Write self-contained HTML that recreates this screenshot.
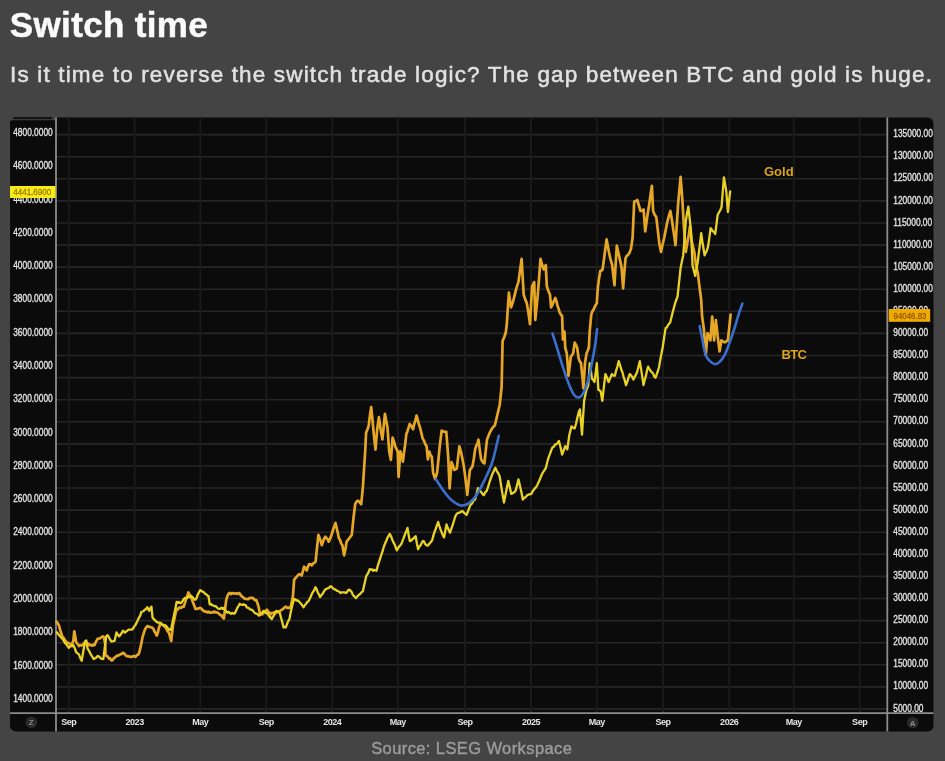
<!DOCTYPE html>
<html><head><meta charset="utf-8"><style>
html,body{margin:0;padding:0;background:#444444;}
#wrap{position:absolute;left:0;top:0;width:945px;height:761px;background:#444444;filter:blur(0.5px);}
body{width:945px;height:761px;background:#444444;overflow:hidden;position:relative;font-family:"Liberation Sans",sans-serif;}
.t{position:absolute;white-space:nowrap;line-height:1;}
#title{left:9.8px;top:7.1px;font-size:35px;font-weight:bold;color:#fafafa;letter-spacing:0.35px;-webkit-text-stroke:0.5px #fafafa;}
#sub{left:10.1px;top:64px;font-size:22.5px;letter-spacing:1.15px;color:#e2e2e2;-webkit-text-stroke:0.5px #e2e2e2;}
#src{left:371.2px;top:739.5px;font-size:16.5px;letter-spacing:0.4px;color:#9c9c9c;-webkit-text-stroke:0.4px #9c9c9c;}
svg{position:absolute;left:0;top:0;}
.ax{font-size:10.2px;fill:#e0e0e0;stroke:#e0e0e0;stroke-width:0.35px;}
.xl{font-size:9px;fill:#e6e6e6;font-weight:bold;letter-spacing:-0.45px;}
.ic{font-size:8px;fill:#8a8a8a;font-weight:bold;}
.lg{font-size:13px;font-weight:bold;fill:#dca21e;}
</style></head><body>
<div id="wrap">
<div class="t" id="title">Switch time</div>
<div class="t" id="sub">Is it time to reverse the switch trade logic? The gap between BTC and gold is huge.</div>
<svg width="945" height="761" viewBox="0 0 945 761">
<rect x="10" y="117.5" width="923.5" height="614.0" rx="6" fill="#0b0b0b"/>
<rect x="10" y="123" width="20" height="10" fill="#0b0b0b"/>
<rect x="9" y="116.5" width="46.2" height="4" fill="#444444"/>
<rect x="13" y="117" width="39.5" height="2.2" rx="1" fill="#141414"/>
<path d="M10,124 Q10,120.6 13.4,120.6 L55,120.6 L55,124 Z" fill="#0b0b0b"/>
<line x1="56" y1="134.6" x2="887.3" y2="134.6" stroke="#262626" stroke-width="1.6"/>
<line x1="56" y1="156.7" x2="887.3" y2="156.7" stroke="#262626" stroke-width="1.6"/>
<line x1="56" y1="178.8" x2="887.3" y2="178.8" stroke="#262626" stroke-width="1.6"/>
<line x1="56" y1="200.9" x2="887.3" y2="200.9" stroke="#262626" stroke-width="1.6"/>
<line x1="56" y1="223" x2="887.3" y2="223" stroke="#262626" stroke-width="1.6"/>
<line x1="56" y1="245.1" x2="887.3" y2="245.1" stroke="#262626" stroke-width="1.6"/>
<line x1="56" y1="267.1" x2="887.3" y2="267.1" stroke="#262626" stroke-width="1.6"/>
<line x1="56" y1="289.2" x2="887.3" y2="289.2" stroke="#262626" stroke-width="1.6"/>
<line x1="56" y1="311.3" x2="887.3" y2="311.3" stroke="#262626" stroke-width="1.6"/>
<line x1="56" y1="333.4" x2="887.3" y2="333.4" stroke="#262626" stroke-width="1.6"/>
<line x1="56" y1="355.5" x2="887.3" y2="355.5" stroke="#262626" stroke-width="1.6"/>
<line x1="56" y1="377.6" x2="887.3" y2="377.6" stroke="#262626" stroke-width="1.6"/>
<line x1="56" y1="399.7" x2="887.3" y2="399.7" stroke="#262626" stroke-width="1.6"/>
<line x1="56" y1="421.8" x2="887.3" y2="421.8" stroke="#262626" stroke-width="1.6"/>
<line x1="56" y1="443.9" x2="887.3" y2="443.9" stroke="#262626" stroke-width="1.6"/>
<line x1="56" y1="466" x2="887.3" y2="466" stroke="#262626" stroke-width="1.6"/>
<line x1="56" y1="488" x2="887.3" y2="488" stroke="#262626" stroke-width="1.6"/>
<line x1="56" y1="510.1" x2="887.3" y2="510.1" stroke="#262626" stroke-width="1.6"/>
<line x1="56" y1="532.2" x2="887.3" y2="532.2" stroke="#262626" stroke-width="1.6"/>
<line x1="56" y1="554.3" x2="887.3" y2="554.3" stroke="#262626" stroke-width="1.6"/>
<line x1="56" y1="576.4" x2="887.3" y2="576.4" stroke="#262626" stroke-width="1.6"/>
<line x1="56" y1="598.5" x2="887.3" y2="598.5" stroke="#262626" stroke-width="1.6"/>
<line x1="56" y1="620.6" x2="887.3" y2="620.6" stroke="#262626" stroke-width="1.6"/>
<line x1="56" y1="642.7" x2="887.3" y2="642.7" stroke="#262626" stroke-width="1.6"/>
<line x1="56" y1="664.8" x2="887.3" y2="664.8" stroke="#262626" stroke-width="1.6"/>
<line x1="56" y1="686.9" x2="887.3" y2="686.9" stroke="#262626" stroke-width="1.6"/>
<line x1="56" y1="708.9" x2="887.3" y2="708.9" stroke="#262626" stroke-width="1.6"/>
<line x1="68.8" y1="117.5" x2="68.8" y2="713.2" stroke="#1a1a1a" stroke-width="2"/>
<line x1="134.6" y1="117.5" x2="134.6" y2="713.2" stroke="#1a1a1a" stroke-width="2"/>
<line x1="200.3" y1="117.5" x2="200.3" y2="713.2" stroke="#1a1a1a" stroke-width="2"/>
<line x1="266.3" y1="117.5" x2="266.3" y2="713.2" stroke="#1a1a1a" stroke-width="2"/>
<line x1="332.3" y1="117.5" x2="332.3" y2="713.2" stroke="#1a1a1a" stroke-width="2"/>
<line x1="397.8" y1="117.5" x2="397.8" y2="713.2" stroke="#1a1a1a" stroke-width="2"/>
<line x1="465" y1="117.5" x2="465" y2="713.2" stroke="#1a1a1a" stroke-width="2"/>
<line x1="531" y1="117.5" x2="531" y2="713.2" stroke="#1a1a1a" stroke-width="2"/>
<line x1="596.8" y1="117.5" x2="596.8" y2="713.2" stroke="#1a1a1a" stroke-width="2"/>
<line x1="663" y1="117.5" x2="663" y2="713.2" stroke="#1a1a1a" stroke-width="2"/>
<line x1="729.2" y1="117.5" x2="729.2" y2="713.2" stroke="#1a1a1a" stroke-width="2"/>
<line x1="793.8" y1="117.5" x2="793.8" y2="713.2" stroke="#1a1a1a" stroke-width="2"/>
<line x1="859.7" y1="117.5" x2="859.7" y2="713.2" stroke="#1a1a1a" stroke-width="2"/>
<line x1="56" y1="117.5" x2="56" y2="731.5" stroke="#8c8c8c" stroke-width="1.8"/>
<line x1="887.3" y1="117.5" x2="887.3" y2="731.5" stroke="#8c8c8c" stroke-width="1.8"/>
<line x1="10" y1="713.2" x2="933.5" y2="713.2" stroke="#8c8c8c" stroke-width="1.8"/>
<text transform="translate(13.2,135.9) scale(0.82,1)" class="ax">4800.0000</text>
<text transform="translate(13.2,169.2) scale(0.82,1)" class="ax">4600.0000</text>
<text transform="translate(13.2,202.5) scale(0.82,1)" class="ax">4400.0000</text>
<text transform="translate(13.2,235.8) scale(0.82,1)" class="ax">4200.0000</text>
<text transform="translate(13.2,269.1) scale(0.82,1)" class="ax">4000.0000</text>
<text transform="translate(13.2,302.3) scale(0.82,1)" class="ax">3800.0000</text>
<text transform="translate(13.2,335.6) scale(0.82,1)" class="ax">3600.0000</text>
<text transform="translate(13.2,368.9) scale(0.82,1)" class="ax">3400.0000</text>
<text transform="translate(13.2,402.2) scale(0.82,1)" class="ax">3200.0000</text>
<text transform="translate(13.2,435.5) scale(0.82,1)" class="ax">3000.0000</text>
<text transform="translate(13.2,468.8) scale(0.82,1)" class="ax">2800.0000</text>
<text transform="translate(13.2,502.1) scale(0.82,1)" class="ax">2600.0000</text>
<text transform="translate(13.2,535.4) scale(0.82,1)" class="ax">2400.0000</text>
<text transform="translate(13.2,568.7) scale(0.82,1)" class="ax">2200.0000</text>
<text transform="translate(13.2,602) scale(0.82,1)" class="ax">2000.0000</text>
<text transform="translate(13.2,635.2) scale(0.82,1)" class="ax">1800.0000</text>
<text transform="translate(13.2,668.5) scale(0.82,1)" class="ax">1600.0000</text>
<text transform="translate(13.2,701.8) scale(0.82,1)" class="ax">1400.0000</text>
<text transform="translate(893.3,137.2) scale(0.82,1)" class="ax">135000.00</text>
<text transform="translate(893.3,159.3) scale(0.82,1)" class="ax">130000.00</text>
<text transform="translate(893.3,181.4) scale(0.82,1)" class="ax">125000.00</text>
<text transform="translate(893.3,203.5) scale(0.82,1)" class="ax">120000.00</text>
<text transform="translate(893.3,225.6) scale(0.82,1)" class="ax">115000.00</text>
<text transform="translate(893.3,247.7) scale(0.82,1)" class="ax">110000.00</text>
<text transform="translate(893.3,269.7) scale(0.82,1)" class="ax">105000.00</text>
<text transform="translate(893.3,291.8) scale(0.82,1)" class="ax">100000.00</text>
<text transform="translate(893.3,313.9) scale(0.82,1)" class="ax">95000.00</text>
<text transform="translate(893.3,336) scale(0.82,1)" class="ax">90000.00</text>
<text transform="translate(893.3,358.1) scale(0.82,1)" class="ax">85000.00</text>
<text transform="translate(893.3,380.2) scale(0.82,1)" class="ax">80000.00</text>
<text transform="translate(893.3,402.3) scale(0.82,1)" class="ax">75000.00</text>
<text transform="translate(893.3,424.4) scale(0.82,1)" class="ax">70000.00</text>
<text transform="translate(893.3,446.5) scale(0.82,1)" class="ax">65000.00</text>
<text transform="translate(893.3,468.6) scale(0.82,1)" class="ax">60000.00</text>
<text transform="translate(893.3,490.6) scale(0.82,1)" class="ax">55000.00</text>
<text transform="translate(893.3,512.7) scale(0.82,1)" class="ax">50000.00</text>
<text transform="translate(893.3,534.8) scale(0.82,1)" class="ax">45000.00</text>
<text transform="translate(893.3,556.9) scale(0.82,1)" class="ax">40000.00</text>
<text transform="translate(893.3,579) scale(0.82,1)" class="ax">35000.00</text>
<text transform="translate(893.3,601.1) scale(0.82,1)" class="ax">30000.00</text>
<text transform="translate(893.3,623.2) scale(0.82,1)" class="ax">25000.00</text>
<text transform="translate(893.3,645.3) scale(0.82,1)" class="ax">20000.00</text>
<text transform="translate(893.3,667.4) scale(0.82,1)" class="ax">15000.00</text>
<text transform="translate(893.3,689.4) scale(0.82,1)" class="ax">10000.00</text>
<text transform="translate(893.3,711.5) scale(0.82,1)" class="ax">5000.00</text>
<text x="68.8" y="724.6" class="xl" text-anchor="middle">Sep</text>
<text x="134.6" y="724.6" class="xl" text-anchor="middle">2023</text>
<text x="200.3" y="724.6" class="xl" text-anchor="middle">May</text>
<text x="266.3" y="724.6" class="xl" text-anchor="middle">Sep</text>
<text x="332.3" y="724.6" class="xl" text-anchor="middle">2024</text>
<text x="397.8" y="724.6" class="xl" text-anchor="middle">May</text>
<text x="465" y="724.6" class="xl" text-anchor="middle">Sep</text>
<text x="531" y="724.6" class="xl" text-anchor="middle">2025</text>
<text x="596.8" y="724.6" class="xl" text-anchor="middle">May</text>
<text x="663" y="724.6" class="xl" text-anchor="middle">Sep</text>
<text x="729.2" y="724.6" class="xl" text-anchor="middle">2026</text>
<text x="793.8" y="724.6" class="xl" text-anchor="middle">May</text>
<text x="859.7" y="724.6" class="xl" text-anchor="middle">Sep</text>
<rect x="10" y="186" width="45.5" height="12" fill="#f6ec14"/>
<text transform="translate(13.2,194.9) scale(0.96,1)" class="ax" style="font-size:8.4px;fill:#a07c00;stroke:#a07c00;stroke-width:0.3px">4441.6900</text>
<rect x="888.7" y="309" width="41.5" height="12.8" fill="#f2a900"/>
<text transform="translate(893.5,318.6) scale(0.84,1)" class="ax" style="font-size:9.4px;fill:#8f5c00;stroke:#8f5c00;stroke-width:0.3px">94046.83</text>
<circle cx="31.3" cy="722.4" r="5.8" fill="#2a2a2a"/>
<text x="31.3" y="725.4" class="ic" text-anchor="middle">Z</text>
<circle cx="912.7" cy="722.7" r="5.8" fill="#2a2a2a"/>
<text x="912.7" y="725.7" class="ic" text-anchor="middle">A</text>
<text x="764" y="175.5" class="lg">Gold</text>
<text x="781.5" y="359" class="lg" style="letter-spacing:-0.7px">BTC</text>
<polyline points="56.4,621.6 57.8,623.4 59.1,625.8 60.5,631.3 62.4,636.8 63.8,638.1 65.1,640.5 66.5,642.1 67.9,643.2 69.1,643.1 70.4,644.5 71.6,645.1 73.4,640.5 74.3,631.3 76.2,642.3 77.6,643.9 78.9,646 80.1,645 81.4,645.4 82.6,645.1 83.8,643.4 85.1,643.1 86.3,642.3 87.5,643.1 88.8,645.2 89.9,644.5 91.1,645.1 92.2,645.7 93.4,644.6 94.5,645.2 96,641.6 97.6,638.9 98.9,638.5 100.2,638.4 101.4,637.1 102.7,636.4 103.9,637 105.2,644 105.5,655.3 106.6,655.8 107.7,656.6 109,658.6 110.2,658.4 111.5,660.4 112.8,659.9 114,657.9 115.3,657.2 116.6,656 117.8,655.3 119.1,655.3 120.4,654.2 121.6,654.1 122.9,652.8 124.5,653.7 126,655.7 127.2,656.1 128.3,656.5 129.5,656.4 130.7,656.9 131.9,657 133.1,656.2 134.3,656.2 135.5,656.9 136.7,655.2 137.8,654.8 139,653.3 140.8,646.2 142.6,636.8 143.8,633.1 144.9,629.7 146.1,627.6 147.3,626.1 148.5,626.6 149.6,626.8 150.8,627.3 152,627.6 153.2,628.5 154.4,631.3 155.6,633.2 156.8,635.6 158,632 159.1,627.3 160.3,623.8 161.7,624.5 163,625 164.5,626.5 166,628 167.5,631.1 169,633 171.2,641 173,625 174.2,620 175.4,614 176.6,609 177.8,609.4 179,607.6 180.1,607.7 181.3,607.9 182.5,606.5 183.7,606.7 184.9,603.1 186.1,598.9 187.2,596.3 188.4,592.5 189.6,594.7 190.8,596 192,599.4 193.2,603.1 194.3,605.5 195.5,609 196.7,609 197.8,608.6 199,608.2 200.2,607.8 201.4,608.6 202.6,610.1 203.8,611.2 205,611.4 206.2,611.7 207.3,612.3 208.5,611.6 209.7,612.6 210.9,612.6 212.1,612.2 213.2,612.5 214.4,611.4 215.6,612.5 216.8,612.3 218,613 219.2,613.8 220.4,615.2 221.6,615.4 222.7,617.3 223.9,618.5 225.1,608.5 226.3,599.6 227.4,596 228.6,593.7 229.8,593 231,594.1 232.2,593.1 233.4,593.3 234.6,593.7 235.9,593.3 237.2,593.9 238.5,593.1 239.7,593.6 240.9,595.4 242.1,596.7 243.3,597.4 244.4,598.5 245.6,598.9 246.8,599 248,599.3 249.2,598.2 250.3,598.1 251.5,597.8 252.7,597.8 253.9,599.2 255.1,600.1 256.3,600.2 257.5,603.2 258.7,607.3 259.8,613.2 261,613.3 262.2,614.4 263.4,612.8 264.5,611.6 265.7,610.9 266.9,609.7 268.1,611.4 269.3,612.5 270.5,614.4 271.6,613 272.8,613.1 273.9,612.4 275,612 276.2,611.9 277.5,612.2 278.8,611.6 280,611 281.2,610.1 282.4,609.3 283.5,608.5 284.7,607.3 285.9,606.6 287.1,607.9 288.2,607.7 289.4,607.9 290.6,607.3 291.8,601.9 293,595.5 294.1,580.1 295.3,578.3 296.5,576.8 297.8,575.4 299,574.3 300.3,574.3 301.6,575.6 302.9,571.4 304.1,566.7 305.4,567.9 306.7,570.5 307.9,566.6 309.2,564.1 310.4,564.3 311.7,565.4 313,563.6 314.3,562.9 315.6,561.6 317,548 318.4,534.9 319.5,537.6 320.7,541 321.8,545.2 323,541.8 324.1,538.8 325.3,536.6 326.4,538.1 327.6,539.2 328.7,541.7 329.8,539.5 331,536.2 332.1,533.2 333.2,529.2 334.4,526 335.5,523 336.6,527.9 337.8,533 338.9,538.3 340.1,540 341.2,543.5 342.4,545.2 344.1,555.4 345.4,549.3 346.6,541.7 347.9,539.9 349.2,538.3 350.5,536.6 351.8,534.9 353.5,517.8 355.2,504.2 356.4,501.8 357.7,500.7 358.9,501.2 360,502.8 361.2,504.2 362.9,487.1 364.1,468 365.3,449.7 366.1,432.6 367.4,429.7 368.7,425.7 369.9,415.8 371.2,407 372.5,419.9 373.8,434.3 375.5,449.7 377.2,429.2 378.9,417.2 380.6,429.2 382.4,439.4 383.6,427.3 384.9,413.8 386.2,420.7 387.5,427.5 389.2,451.4 390.9,459.9 392.6,437.7 393.9,441.4 395.2,446.2 396.4,448.9 397.7,451.4 398.6,477 400.3,451.4 401.6,455.7 402.9,461.6 404,452.5 405.2,444.2 406.3,434.3 407.4,431.4 408.6,427.7 409.7,424 410.8,425.4 412,427.3 413.1,429.2 414.2,424.1 415.4,420.5 416.5,415.5 417.7,419.6 418.8,423.9 420,427.5 421.3,432.7 422.6,438.4 423.9,440.6 425.3,444.2 426.6,446.3 427.9,459.4 429.2,451.5 430.5,454.9 431.8,456.8 433.1,472.6 435.1,479.1 437.1,472.6 438.4,460 439.7,446.3 441.7,430.5 442.9,431.3 444,431.7 445.1,431.9 446.3,431.8 448.2,456.8 449.6,488.3 451.5,462 452.9,465.5 454.2,469.9 455.5,469.3 456.8,468.6 458.1,457.2 459.4,446.3 460.7,450.8 462,456.8 463.4,463.9 464.7,472.6 466,483.4 467.3,494.9 468.6,482 469.9,469.9 471.2,468.3 472.6,466 473.9,458.2 475.2,448.9 476.3,445.7 477.4,443.5 478.5,439.7 479.8,450.3 481.1,459.4 482.8,462.1 484.4,463.4 485.7,451.3 487,439.7 488.3,436.2 489.6,433.1 490.9,430.5 492.2,428.3 493.6,426.6 494.9,425.3 496.8,417.2 498.2,411.3 499.7,405 501.6,387.2 502.6,340.9 504.2,337.3 505.8,332.5 506.8,324.1 508.9,292.6 510,300.5 511.1,307.3 513.2,301 514.8,294.7 516.3,288.4 518.4,282.1 520,270.7 521.6,258.9 523.7,294.7 525.2,299.4 526.8,303.1 528.4,312.9 530,324.1 532.1,286.3 534.2,282.1 535.3,319.9 537.4,298.9 539,279.2 540.5,258.9 542.1,264.8 543.7,269.4 545.8,265.2 546.8,286.3 548.4,291 550,294.7 551.1,307.3 552.5,304.6 553.9,301.1 555.3,298 556.4,301.1 557.5,305.8 558.6,308.7 559.7,312.6 560.9,314.7 562.1,315.8 562.9,339.4 564.5,331.5 565.2,347.3 566.8,353.6 567.6,363.1 568.4,375.7 569.6,367 570.8,356.8 572,355 573.1,353.6 574.7,342.6 575.9,344.8 577.1,347.3 578.6,358.3 579.8,361.4 581,363.1 582.6,378.8 583.4,388.3 585,363.1 586.5,353.6 587.7,350.8 588.9,347.3 589.7,331.5 591.3,314.2 592.5,311.3 593.6,309.5 595.2,305.8 596.8,303.2 597.9,286.7 599.1,278.2 600.3,270.9 601.5,270.7 602.6,269.3 603.9,259.8 605.3,248.8 606.6,239.4 607.8,246.2 608.9,252 610.5,259.1 612.1,264.6 613.3,275.1 614.5,285.1 615.6,265.2 616.8,245.7 618.4,252.9 620,259.9 621.6,267.8 623.1,288.3 624.3,272.7 625.5,258.3 626.7,255.9 627.9,255.1 629.5,252.7 631,248.8 632.6,237.8 634.2,201.5 635.8,201 637.3,200 638.9,205.5 640.5,211 642,210.9 643.6,209.4 645.2,231.5 646.4,222.7 647.6,214.2 649.2,204.5 650.7,193.7 651.9,185.8 653.1,211 654.7,214.7 656.3,217.3 657.8,230.2 659.4,244.1 661,252 662.6,244.5 664.2,237.8 665.8,229.6 667.3,222 668.8,216.1 670.4,211 672.1,221.2 673.2,229.3 674.4,236.8 675.5,245.2 676.8,224.6 678.1,204.2 679.4,189.9 680.6,176.8 682.4,200.7 684.1,229.8 685.8,252 687.5,241.7 688.8,234.7 690,226.4 691.8,241.7 693,246.6 694.3,252 696,265.7 697.7,272.5 699.4,286.2 701.2,300 702.1,316.5 703.9,329.3 705.8,355.1 707.6,333 709,336.6 710.4,340.4 712.2,316.5 714.1,340.4 715.9,320.1 717.7,336.7 719.6,351.4 721.4,340.4 722.8,341.4 724.2,342.2 725.4,342.2 726.7,340.9 727.9,340.4 729.2,328.2 730.6,314.6" fill="none" stroke="#e6a626" stroke-width="2.7" stroke-linejoin="round" stroke-linecap="round"/>
<polyline points="56.8,632.2 58.2,634.1 59.6,635.9 61,637.3 62.4,638.6 63.8,640.9 65.1,643.2 66.3,644 67.6,646.2 68.8,647.8 70,646.6 71.1,645.7 72.2,646.3 73.4,645.1 74.8,648.2 76.2,652.4 77.6,653.3 78.9,654.3 80.3,657.9 81.7,660.7 83.3,651.2 85,641.5 86.3,640.5 87.5,648.4 89.1,651 90.7,654.1 92.2,656.6 93.8,659.1 95.1,658.2 96.3,657.5 97.6,656 99.2,656.6 100.8,658.5 102,658.9 103.3,659.1 104.8,647.4 106.2,636.5 107.5,635.1 108.8,636.9 110.2,639.8 111.5,641.5 113,641.2 114.6,640.8 116.5,632.4 117.8,634.5 119.1,636.4 120.4,634.9 121.6,633.3 122.9,630.7 125,632.6 126.1,631.5 127.3,630.8 128.4,629.7 129.6,629.7 130.7,629.7 131.9,629.7 133.1,628.4 134.3,626.4 135.5,624.9 136.7,622.6 137.8,620.1 139,617.8 140.2,615.6 141.4,611.9 142.6,611.5 143.7,611 144.9,609.6 146.1,609.1 147.3,607.2 149.1,610.7 150.2,608.3 151.4,606.6 152.6,617.8 154.1,619.4 155.6,620.8 156.8,622.1 157.9,622.5 159.1,622.6 160.3,622.8 161.5,623.5 162.7,624.9 163.9,625.2 165,625 166.2,626.1 167.4,627.5 168.6,629.7 169.8,629.2 171,630 173,620 174.2,614.3 175.4,608.5 176.6,602 177.7,602.9 178.8,601.9 179.9,603.1 181,603 182.3,601.6 183.7,599.1 185,598 186.2,598.2 187.3,597.9 188.5,596.4 189.6,597.1 190.8,596 192,596.7 193.2,597.8 194.3,599.5 195.5,599.6 196.7,597.8 197.8,594.3 199,592.4 200.2,590.1 201.4,591 202.6,591.6 203.8,592.3 205,593.7 206.2,594.2 207.3,595.6 208.5,596 209.7,604.3 210.9,603.9 212.1,605.2 213.3,605.5 214.5,606.1 215.7,606.1 216.8,607.3 218,608.5 219.2,609 220.4,608.7 221.6,607.7 222.7,608.9 223.9,607.8 225.1,610.1 226.3,611.4 227.5,612.8 228.7,612 229.8,612.8 231,613.8 232.3,612.9 233.7,613.8 235,613.2 236.2,610.5 237.3,607.9 238.5,606 239.7,603.8 240.9,604.7 242.1,604.9 243.3,604.2 244.5,604.9 245.7,605.2 246.8,607.4 248,607.7 249.2,608.5 250.4,609.7 251.6,609.6 252.7,610.4 253.9,612 255.1,613.2 256.3,613.7 257.5,614 258.7,615.6 259.9,615.1 261,613.5 262.2,612.6 263.4,610.9 264.6,611.1 265.8,613.2 266.9,612.8 268.1,614.4 269.3,616.5 270.5,617.5 271.7,619.1 272.9,616.8 274,615.1 275.2,613.6 276.4,610.9 277.6,611.3 278.7,611.8 279.9,613.2 281.1,618 282.3,622.2 283.5,627.4 284.6,626.8 285.8,627.4 287,624.1 288.2,621.1 289.4,619.1 290.6,612.7 291.8,607.3 293,602.8 294.1,599 295.3,599.3 296.5,600.6 297.7,600.5 298.9,601.4 300.1,602.9 301.2,603.8 302.4,605.6 303.6,607.3 304.8,605.1 306,604 307.1,602.1 308.3,601.4 309.5,599.4 310.7,596.7 311.9,593.8 313,591.9 314.2,590.3 315.4,587.2 316.6,589 317.8,592.6 318.9,594.4 320.1,597 321.4,595.1 322.7,593.8 324,591.3 325.3,589.6 326.6,588.8 327.9,588.2 329.1,587.8 330.4,586.2 331.7,586.8 332.9,588.4 334.2,589.1 335.5,589.6 336.8,590.7 338.1,591.1 339.3,591.9 340.6,593 341.9,592.3 343.2,592.4 344.5,592.3 345.8,593 346.9,592.3 348.1,590.3 349.2,589.6 350.3,590.5 351.5,591.8 352.6,594.4 353.7,595.9 354.9,597 356,598.1 357.1,596.6 358.3,595.4 359.4,594.4 360.6,593.5 361.8,591.9 362.9,591.3 364,586.1 365.2,580.7 366.3,575.9 367.4,574.4 368.6,572.1 369.7,569.1 370.8,569.5 372,569.3 373.1,570.7 374.2,569.9 375.4,570.3 376.5,570.8 377.7,566 378.8,562.6 380,558.8 381.3,554.9 382.6,551.2 383.8,546.8 385.1,543.5 386.2,541.1 387.4,537.9 388.6,535.9 389.7,533.9 390.9,536 392.1,539.2 393.3,542.1 394.5,544.1 395.6,546.9 396.8,550.4 398,548.3 399.2,546.4 400.4,545.2 401.6,543.3 402.8,540.2 403.9,537.4 405.1,533.9 406.3,531.2 407.5,527.9 408.6,534.8 409.8,541 411,540.8 412.2,539.2 413.4,538.6 414.5,537.1 415.7,536.2 416.9,543.5 418.1,549.2 419.3,546.6 420.5,545.5 421.6,543.3 422.8,541 424,541.4 425.2,543.9 426.4,545.2 427.6,545.7 428.8,544.4 430,543.1 431.1,541.8 432.3,539.8 433.5,535.1 434.7,531.5 435.9,528.4 437,525.2 438.2,522 439.4,526.1 440.6,529.6 441.8,532.7 443,535.6 444.1,537.4 445.3,531 446.5,524.4 447.7,527.8 448.8,530.2 450,532.7 451.2,529.1 452.4,525.9 453.6,522 454.8,518 456,514.9 457.2,513.4 458.3,512.8 459.5,512.6 460.7,512 461.8,511.2 463,511.4 464.2,513.1 465.4,513.8 466.6,514.9 467.8,512 468.9,508.8 470.1,505.5 471.3,504.3 472.6,502.5 473.8,500.3 475,499.6 476.5,494.3 478,488.1 479.2,489.9 480.3,491 481.5,492.5 482.6,494.1 483.8,495.3 485.2,492.4 486.7,490.9 488.1,486.9 489.6,481.8 491,477.9 492.4,473.9 493.9,470.8 495.3,467.8 496.8,471.1 498.2,473.1 499.7,476.5 501.1,485.6 502.6,494.6 504,502.5 505.4,495.3 506.9,487.8 508.3,480.8 509.8,487.3 511.2,493.8 512.3,493.4 513.4,492.8 514.5,491.8 515.6,490.9 517,485.4 518.5,479.4 519.9,485.5 521.4,492.3 522.8,499.6 524.2,497.8 525.7,497.1 527.1,495.3 528.6,494.5 530,494.4 531.5,493.8 532.6,491.3 533.8,489.7 534.9,488.3 536.1,487.2 537.2,485.2 538.7,482.1 540.1,478.7 541.6,475 543,472.3 544.5,470.2 545.9,467.8 547.1,462.8 548.4,458 549.8,454.4 551.2,450.3 552.6,447.3 553.9,446.7 555.1,444.3 556.4,444.3 557.6,443 558.9,441 560.5,447 562.1,454.6 563.7,450.3 565.2,446.2 567.3,449.4 569.4,434.7 571.5,426.3 573.1,427.9 574.7,428.4 576.1,423.5 577.5,417.1 578.9,411.5 579.9,409.4 582,434.7 584.1,401 586.2,390.5 588.3,385.3 589.7,363.1 590.9,370.6 592,378.8 593.2,379.9 594.4,382 595.6,373.3 596.8,363.1 598.4,389.9 599.5,390.2 600.7,391.5 602.3,400.9 603.8,387.6 605.4,374.1 607,377.5 608.6,382 610.2,378.1 611.8,374.1 613.3,375.6 614.9,375.7 616.2,370.3 617.4,366.5 618.7,361.2 619.9,364.9 621.2,369.2 622.4,372.2 623.6,376.8 624.8,380.4 626,385.1 627.2,382.1 628.5,377.7 629.7,374.1 630.9,375.2 632.2,377 633.4,379.6 634.6,377.1 635.9,374.6 637.1,372.2 638.5,366.4 639.8,361.2 641,368.6 642.3,376.9 643.5,385.1 644.6,380.2 645.8,376.4 647,370.5 648.1,366.7 649.3,368.9 650.6,370.9 651.8,372.2 653,373.4 654.3,376.5 655.5,377.7 656.7,374.4 657.9,371 659.1,366.7 660.3,359.6 661.6,353 662.8,346.5 664.2,337.1 665.6,328.1 666.8,327.5 667.9,325.4 669.1,323.7 670.2,322.5 671.4,317.5 672.7,312.3 673.9,307.8 675.1,303.4 676.3,299.8 677.5,296.8 679,282.9 680.6,268 681.9,261.4 683.2,255.4 684.5,239 685.8,221.2 687,213.5 688.3,206.7 689.6,217.9 690.9,229.8 692.6,265.7 693.9,270.8 695.2,275.9 696.5,268.6 697.7,262.2 698.9,252.3 700,243.6 701.2,233.2 702.3,241.2 703.5,248.5 704.6,255.4 705.7,252.8 706.9,250.4 708,246.9 709.3,238.2 710.6,228.1 711.8,229.7 712.9,231.5 714.1,231.9 715.2,234.1 716.4,225 717.6,215.2 718.9,212.5 720.2,210.3 721.5,207.3 722.7,192.5 723.9,177.3 725.1,184.1 726.3,191.5 727.9,212 729,201 730.2,191.5" fill="none" stroke="#e9d226" stroke-width="2.3" stroke-linejoin="round" stroke-linecap="round"/>
<path d="M435.8,479.1 C437.1,481.1 441.1,487.5 443.7,491 C446.3,494.5 448.7,497.7 451.5,500.1 C454.3,502.5 457.8,504.8 460.7,505.4 C463.6,505.9 466,505.1 468.6,503.4 C471.2,501.6 473.9,498.7 476.5,494.9 C479.1,491.1 481.8,485.9 484.4,480.4 C487,474.9 489.9,469.4 492.3,462 C494.7,454.6 497.7,440.2 498.8,435.8" fill="none" stroke="#3b6fce" stroke-width="2.6" stroke-linecap="round"/>
<path d="M552.5,333.6 C553.3,336 555.5,342.8 557.1,348.1 C558.7,353.4 560.5,359.7 562.3,365.2 C564,370.7 565.9,376.3 567.6,380.9 C569.4,385.5 571,390.1 572.8,392.8 C574.5,395.6 576.3,397.4 578.1,397.4 C579.9,397.4 581.6,396 583.4,392.8 C585.1,389.6 587.1,383.8 588.6,378.3 C590.1,372.8 591.4,365.6 592.5,359.9 C593.6,354.2 594.4,349.3 595.2,344.2 C596,339.1 596.8,331.5 597.1,329" fill="none" stroke="#3b6fce" stroke-width="2.6" stroke-linecap="round"/>
<path d="M699.7,326 C700.1,328.2 701.3,334.3 702.3,339.1 C703.3,343.9 704.3,351.2 705.6,354.9 C706.9,358.6 708.7,359.9 710.2,361.4 C711.7,362.9 713.3,364 714.8,364.1 C716.3,364.2 717.8,363.6 719.4,362.1 C721,360.6 723,358.3 724.7,354.9 C726.5,351.5 728.1,346.5 729.9,341.7 C731.6,336.9 733.7,330.8 735.2,326 C736.7,321.2 737.9,316.5 739.1,312.8 C740.3,309.1 741.9,305.1 742.4,303.6" fill="none" stroke="#3b6fce" stroke-width="2.6" stroke-linecap="round"/>
</svg>
<div class="t" id="src">Source: LSEG Workspace</div>
</div>
</body></html>
